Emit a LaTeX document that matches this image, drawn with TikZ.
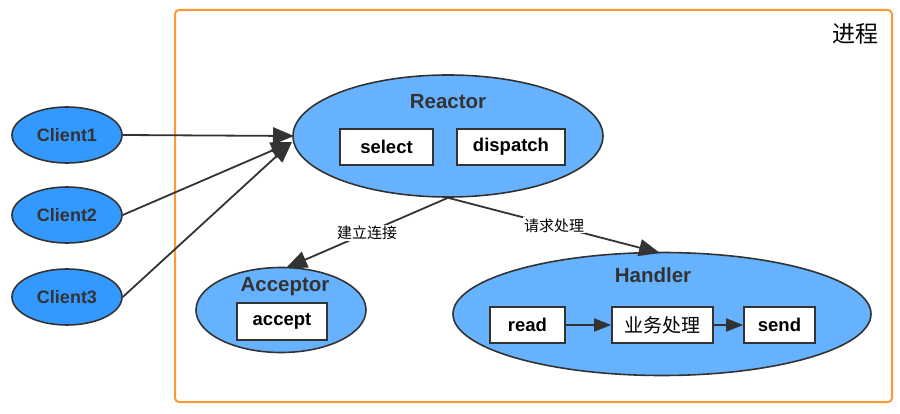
\documentclass[tikz,border=0pt]{standalone}
\usepackage{fontspec}
\setmainfont{Liberation Sans}
\newfontfamily\cjk{Noto Sans CJK SC}
\usetikzlibrary{shapes.geometric,arrows.meta}
\definecolor{cfill}{HTML}{3399FF}
\definecolor{efill}{HTML}{66B2FF}
\definecolor{edge}{HTML}{333333}
\definecolor{frame}{HTML}{FF9933}
\tikzset{
  client/.style={ellipse,draw=edge,line width=1.6pt,fill=cfill,inner sep=0pt,minimum width=110pt,minimum height=56pt,font=\bfseries\fontsize{18}{20}\selectfont,text=edge},
  bigell/.style={ellipse,draw=edge,line width=1.6pt,fill=efill,inner sep=0pt},
  title/.style={font=\bfseries\fontsize{20.5}{22}\selectfont,text=edge},
  box/.style={draw=edge,line width=1.6pt,fill=white,inner sep=0pt,minimum height=36pt,font=\bfseries\fontsize{18.5}{20}\selectfont},
  conn/.style={draw=edge,line width=1.8pt,-{Triangle[length=21pt,width=17pt]}},
  sconn/.style={draw=edge,line width=1.8pt,-{Triangle[length=17pt,width=13pt]}},
  elabel/.style={fill=white,inner sep=1pt,font=\cjk\fontsize{15}{17}\selectfont},
}
\begin{document}
\begin{tikzpicture}[x=1pt,y=-1pt]
\useasboundingbox (0,0) rectangle (900,414);
\draw[frame,line width=2pt,rounded corners=4pt] (175,10) rectangle (892,402);
\node[font=\cjk\fontsize{23}{25}\selectfont] (proc) at (855,34) {进程};

\node[client] (c1) at (67,135) {Client1};
\node[client] (c2) at (67,215) {Client2};
\node[client] (c3) at (67,297) {Client3};

\node[bigell,minimum width=310pt,minimum height=122pt] (reactor) at (448,136) {};
\node[title] (rt) at (448,102) {Reactor};
\node[box,minimum width=93pt] (select) at (386.5,147) {select};
\node[box,minimum width=108pt] (dispatch) at (511,147) {dispatch};

\node[bigell,minimum width=170pt,minimum height=85pt] (acceptor) at (281,310) {};
\node[title] (at) at (285,287) {Acceptor};
\node[box,minimum width=90pt,minimum height=37pt] (accept) at (282,321.5) {accept};

\node[bigell,minimum width=418pt,minimum height=123pt] (handler) at (662,314) {};
\node[title] (ht) at (653,275) {Handler};
\node[box,minimum width=75pt] (read) at (527.5,325) {read};
\node[box,minimum width=101pt,font=\cjk\fontsize{19}{21}\selectfont] (biz) at (662.5,325) {业务处理};
\node[box,minimum width=71pt] (send) at (779.5,325) {send};

\coordinate (r1) at (294,136);
\coordinate (r2) at (292,142);
\coordinate (hin) at (660,253);
\coordinate (ain) at (286,268);

\draw[conn] (c1.east) -- (r1);
\draw[conn] (c2.east) -- (r2);
\draw[conn] (c3.east) -- (r2);

\draw[conn] (reactor.south) -- node[elabel] {建立连接} (ain);
\draw[conn] (reactor.south) -- node[elabel] {请求处理} (hin);

\draw[sconn] (read) -- (biz);
\draw[sconn] (biz) -- (send);
\end{tikzpicture}
\end{document}
